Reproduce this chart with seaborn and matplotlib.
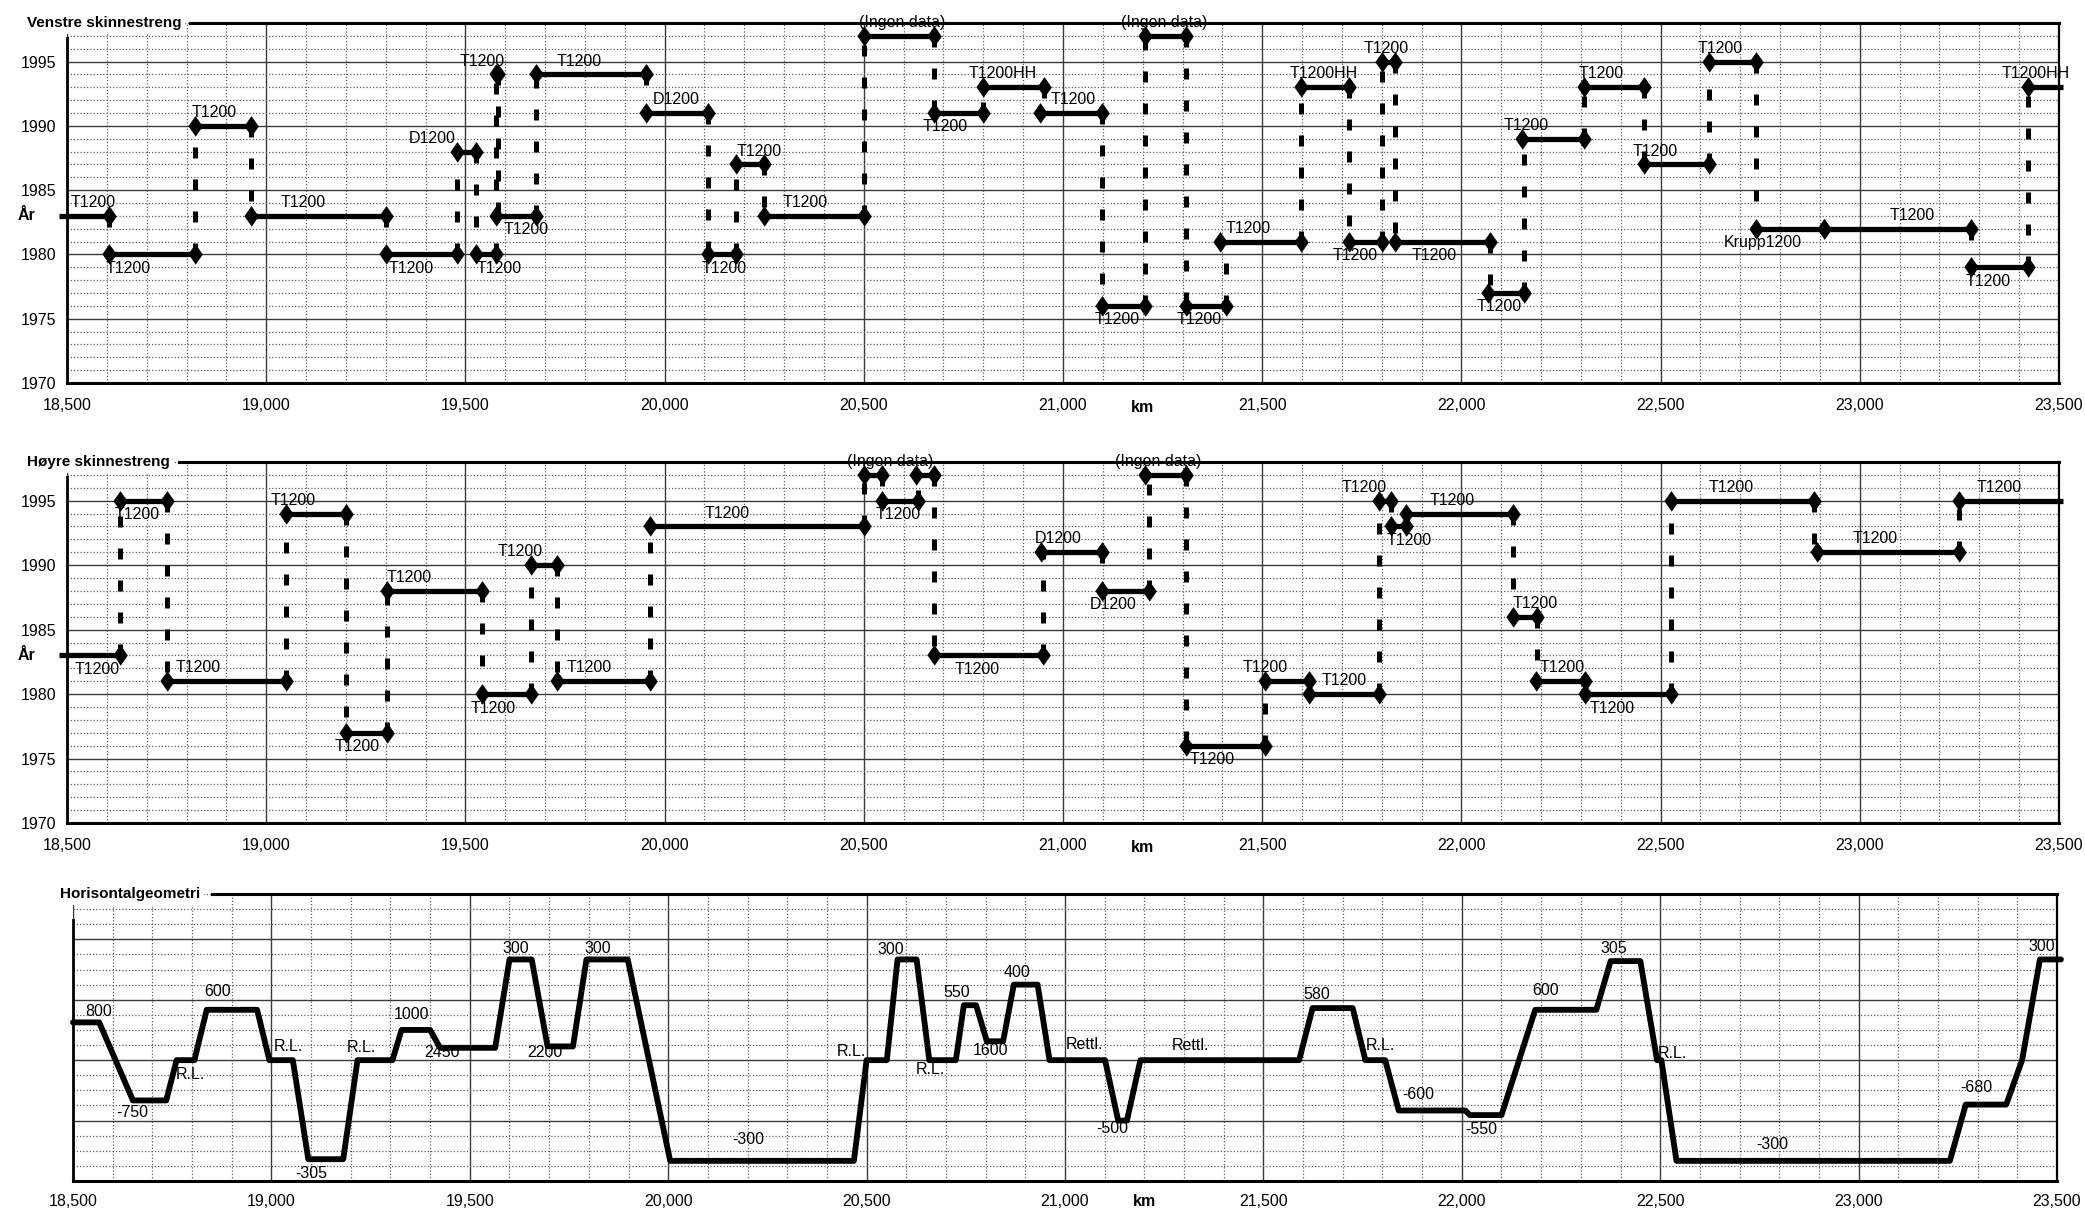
import matplotlib
matplotlib.use("Agg")
import matplotlib.pyplot as plt
import matplotlib.transforms as mtransforms
from matplotlib.ticker import MultipleLocator, FuncFormatter
import numpy as np
import pandas as pd
import seaborn as sns

# ---------------- DATA ----------------
# Venstre skinnestreng: rail sections (km from, km to, year laid, rail type)
v_start = [18480, 18606, 18822, 18961, 19300, 19478, 19527, 19578, 19578, 19676,
           19954, 20110, 20180, 20250, 20500, 20676, 20798, 20943, 21098, 21205,
           21308, 21395, 21598, 21718, 21800, 21833, 22067, 22152, 22308, 22459,
           22621, 22740, 22909, 23280, 23422]
v_end = [18606, 18822, 18961, 19300, 19478, 19527, 19578, 19582, 19676, 19954,
         20110, 20180, 20250, 20500, 20676, 20798, 20952, 21098, 21205, 21308,
         21410, 21598, 21718, 21800, 21833, 22072, 22157, 22308, 22459, 22621,
         22740, 22909, 23280, 23422, 23510]
v_year = [1983, 1980, 1990, 1983, 1980, 1988, 1980, 1994, 1983, 1994,
          1991, 1980, 1987, 1983, 1997, 1991, 1993, 1991, 1976, 1997,
          1976, 1981, 1993, 1981, 1995, 1981, 1977, 1989, 1993, 1987,
          1995, 1982, 1982, 1979, 1993]
v_type = ["T1200", "T1200", "T1200", "T1200", "T1200", "D1200", "T1200", "T1200", "T1200", "T1200",
          "D1200", "T1200", "T1200", "T1200", "(Ingen data)", "T1200", "T1200HH", "T1200", "T1200", "(Ingen data)",
          "T1200", "T1200", "T1200HH", "T1200", "T1200", "T1200", "T1200", "T1200", "T1200", "T1200",
          "T1200", "Krupp1200", "T1200", "T1200", "T1200HH"]

# Høyre skinnestreng
h_start = [18480, 18634, 18752, 19049, 19201, 19302, 19542, 19665, 19729, 19963,
           20500, 20545, 20631, 20676, 20946, 21098, 21205, 21308, 21508, 21618,
           21794, 21824, 21860, 22129, 22188, 22310, 22527, 22892, 23249]
h_end = [18634, 18752, 19049, 19201, 19302, 19542, 19665, 19729, 19963, 20500,
         20545, 20637, 20676, 20949, 21098, 21216, 21308, 21508, 21618, 21794,
         21824, 21860, 22129, 22191, 22310, 22527, 22884, 23249, 23510]
h_year = [1983, 1995, 1981, 1994, 1977, 1988, 1980, 1990, 1981, 1993,
          1997, 1995, 1997, 1983, 1991, 1988, 1997, 1976, 1981, 1980,
          1995, 1993, 1994, 1986, 1981, 1980, 1995, 1991, 1995]
h_type = ["T1200", "T1200", "T1200", "T1200", "T1200", "T1200", "T1200", "T1200", "T1200", "T1200",
          "(Ingen data)", "T1200", "(Ingen data)", "T1200", "D1200", "D1200", "(Ingen data)", "T1200", "T1200", "T1200",
          "T1200", "T1200", "T1200", "T1200", "T1200", "T1200", "T1200", "T1200", "T1200"]

# Horisontalgeometri: break points of the curvature diagram (km, radius; None = rettlinje)
geo_km = [18500, 18566, 18651, 18735, 18761, 18806, 18837, 18964, 18995, 19054,
          19093, 19181, 19217, 19305, 19328, 19400, 19425, 19564, 19600, 19656,
          19696, 19760, 19794, 19898, 20005, 20468, 20500, 20551, 20578, 20626,
          20658, 20725, 20745, 20776, 20803, 20844, 20871, 20931, 20961, 21101,
          21134, 21156, 21190, 21590, 21624, 21725, 21757, 21807, 21841, 22009,
          22020, 22100, 22185, 22339, 22375, 22450, 22492, 22503, 22541, 23230,
          23270, 23372, 23412, 23457, 23510]
geo_radius = [800, 800, -750, -750, None, None, 600, 600, None, None,
              -305, -305, None, None, 1000, 1000, 2450, 2450, 300, 300,
              2200, 2200, 300, 300, -300, -300, None, None, 300, 300,
              None, None, 550, 550, 1600, 1600, 400, 400, None, None,
              -500, -500, None, None, 580, 580, None, None, -600, -600,
              -550, -550, 600, 600, 305, 305, None, None, -300, -300,
              -680, -680, None, 300, 300]
geo_text = ["800", "-750", "R.L.", "600", "R.L.", "-305", "R.L.", "1000", "2450", "300",
            "2200", "300", "-300", "R.L.", "300", "R.L.", "550", "1600", "400", "Rettl.",
            "-500", "Rettl.", "580", "R.L.", "-600", "-550", "600", "305", "R.L.", "-300",
            "-680", "300"]

# ---------------- LAYOUT (label placement only) ----------------
# (side, shift in km of the label's left edge relative to section start)
v_lab = [('a', 28), ('b', -10), ('a', -10), ('a', 75), ('b', 8), ('a', -120), ('b', 0), ('a', -92), ('b', 17), ('a', 53),
         ('a', 17), ('b', -18), ('a', 0), ('a', 47), ('a', -11), ('b', -28), ('a', -34), ('a', 25), ('b', -19), ('a', -59),
         ('b', -22), ('a', 12), ('a', -28), ('b', -42), ('a', -45), ('b', 41), ('b', -29), ('a', -46), ('a', -15), ('a', -30),
         ('a', -28), ('b', -82), ('a', 165), ('b', -14), ('a', -66)]
h_lab = [('b', 39), ('b', -14), ('a', 20), ('a', -38), ('b', -30), ('a', 0), ('b', -29), ('a', -84), ('a', 24), ('a', 138),
         ('a', -43), ('b', -15), ('', 0), ('b', 51), ('a', -17), ('b', -32), ('a', -74), ('b', 9), ('a', -56), ('a', 30),
         ('a', -95), ('b', -12), ('a', 60), ('a', 0), ('a', 9), ('b', 11), ('a', 94), ('a', 91), ('a', 45)]
geo_text_pos = [(18564, 1.62), (18650, -1.74), (18795, -0.47), (18865, 2.27), (19043, 0.46), (19101, -3.74),
                (19226, 0.41), (19352, 1.51), (19431, 0.24), (19617, 3.68), (19690, 0.24), (19823, 3.68),
                (20201, -2.64), (20463, 0.30), (20562, 3.66), (20662, -0.30), (20728, 2.25), (20812, 0.33),
                (20880, 2.91), (21049, 0.53), (21119, -2.25), (21316, 0.47), (21635, 2.16), (21795, 0.47),
                (21890, -1.13), (22049, -2.29), (22211, 2.29), (22384, 3.71), (22532, 0.22), (22782, -2.78),
                (23296, -0.90), (23461, 3.77)]

W, H = 2085, 1212
INK = "black"
GRID_MAJ = "#3a3a3a"
GRID_MIN = "#606060"
FS = 11.5

sns.set_theme(style="white")
plt.rcParams["font.family"] = ["Liberation Sans", "DejaVu Sans"]
plt.rcParams["axes.unicode_minus"] = False

fig = plt.figure(figsize=(W / 100, H / 100), dpi=100)
fig.patch.set_facecolor("white")
ax1 = fig.add_axes([67 / W, 1 - 383 / H, 1992 / W, 360 / H])
ax2 = fig.add_axes([67 / W, 1 - 823 / H, 1992 / W, 361 / H])
ax3 = fig.add_axes([73 / W, 1 - 1181 / H, 1984 / W, 287 / H])


def style_axes(ax, ylim, ymaj, ymin, title, title_x, line_start, left_top, xpad, show_y, km_y):
    ax.set_facecolor("white")
    ax.set_xlim(18500, 23500)
    ax.set_ylim(*ylim)
    ax.xaxis.set_major_locator(MultipleLocator(500))
    ax.xaxis.set_minor_locator(MultipleLocator(100))
    ax.yaxis.set_major_locator(MultipleLocator(ymaj))
    ax.yaxis.set_minor_locator(MultipleLocator(ymin))
    ax.set_axisbelow(True)
    ax.grid(which="major", axis="both", color=GRID_MAJ, lw=1.0, ls="-")
    ax.grid(which="minor", axis="both", color=GRID_MIN, lw=0.9, ls=(0, (1, 1.6)))
    ax.xaxis.set_major_formatter(FuncFormatter(lambda v, p: f"{int(round(v)):,}"))
    ax.tick_params(axis="x", which="both", length=0, pad=xpad, labelsize=11.5, colors=INK)
    ax.tick_params(axis="y", which="both", length=0, pad=8, labelsize=11.5, colors=INK)
    if not show_y:
        ax.set_yticklabels([])
    ax.set_xlabel("")
    ax.set_ylabel("")
    for s in ax.spines.values():
        s.set_color(INK)
        s.set_visible(True)
    ax.spines["top"].set_linewidth(2.2)
    ax.spines["top"].set_bounds(line_start, 23500)
    ax.spines["bottom"].set_linewidth(2.2)
    ax.spines["left"].set_linewidth(2.0)
    ax.spines["left"].set_bounds(ylim[0], left_top)
    ax.spines["right"].set_linewidth(1.6)
    ax.text(title_x, 1.0, title, transform=ax.transAxes, ha="left", va="center",
            fontsize=11, fontweight="bold", color=INK, zorder=6,
            bbox=dict(facecolor="white", edgecolor="none", pad=2.5))
    trans = mtransforms.blended_transform_factory(ax.transData, ax.transAxes)
    ax.text(21200, km_y, "km", transform=trans, ha="center", va="center",
            fontsize=11.5, fontweight="bold", color=INK)


def draw_rail(ax, starts, ends, years, types, layout):
    n = len(starts)
    seg_df = pd.DataFrame({
        "seg": np.repeat(np.arange(n), 2),
        "km": np.ravel(np.column_stack([starts, ends])),
        "year": np.repeat(years, 2),
    })
    sns.lineplot(data=seg_df, x="km", y="year", units="seg", estimator=None, sort=False,
                 color=INK, lw=3.8, ax=ax, legend=False, clip_on=False,
                 solid_capstyle="butt", zorder=4)
    # dashed vertical connectors where the rail year changes
    cx, cy0, cy1 = [], [], []
    for i in range(n - 1):
        if years[i] != years[i + 1]:
            cx.append(ends[i])
            cy0.append(years[i])
            cy1.append(years[i + 1])
    ax.vlines(cx, cy0, cy1, colors=INK, lw=3.6, linestyles=[(0, (2.2, 4.2))], zorder=3)
    # diamond markers at section ends inside the axis range
    px = [s for s in starts if s >= 18500] + [e for e in ends if e <= 23500]
    py = [y for s, y in zip(starts, years) if s >= 18500] + [y for e, y in zip(ends, years) if e <= 23500]
    sns.scatterplot(x=px, y=py, ax=ax, marker=[(-0.7, 0), (0, 1), (0.7, 0), (0, -1)],
                    s=200, color=INK, edgecolor=INK, linewidth=0.5, zorder=5, legend=False,
                    clip_on=False)
    for s, y, t, (side, dx) in zip(starts, years, types, layout):
        if not side:
            continue
        x = s + dx
        if side == "a":
            ax.text(x, y + 0.45, t, ha="left", va="bottom", fontsize=FS, color=INK, zorder=6)
        else:
            ax.text(x, y - 0.5, t, ha="left", va="top", fontsize=FS, color=INK, zorder=6)
    trans = mtransforms.blended_transform_factory(ax.transAxes, ax.transData)
    ax.text(-0.0246, 1983, "År", transform=trans, ha="left", va="center",
            fontsize=11.5, fontweight="bold", color=INK)


# Panel 1
draw_rail(ax1, v_start, v_end, v_year, v_type, v_lab)
style_axes(ax1, (1970, 1998), 5, 1, "Venstre skinnestreng", -0.0201, 18809, 1996.8, 11, True, -24 / 360)

# Panel 2
draw_rail(ax2, h_start, h_end, h_year, h_type, h_lab)
style_axes(ax2, (1970, 1998), 5, 1, "Høyre skinnestreng", -0.0201, 18780, 1996.8, 11, True, -24 / 361)

# Panel 3
geo_curv = np.array([0.0 if r is None else 1000.0 / r for r in geo_radius])
sns.lineplot(x=np.array(geo_km, dtype=float), y=geo_curv, sort=False, estimator=None,
             color=INK, lw=4.2, ax=ax3, clip_on=False, zorder=4)
for t, (x, y) in zip(geo_text, geo_text_pos):
    ax3.text(x, y, t, ha="center", va="center", fontsize=FS, color=INK, zorder=6)
style_axes(ax3, (-4, 5.5), 2, 0.5, "Horisontalgeometri", -0.00655, 18850, 4.65, 9, False, -21 / 287)

fig.savefig("out.png", dpi=100, facecolor="white")
